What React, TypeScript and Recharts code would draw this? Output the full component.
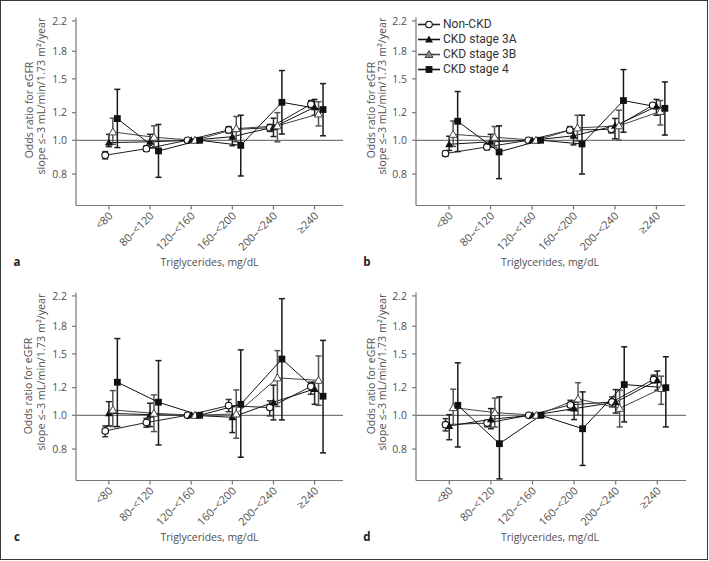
import React from 'react';
import { LineChart, Line, XAxis, YAxis, ReferenceLine, ErrorBar } from 'recharts';

const categories = ['<80', '80–<120', '120–<160', '160–<200', '200–<240', '≥240'];
const yTicks = [0.8, 1.0, 1.2, 1.5, 1.8, 2.2];
const seriesNames = ['Non-CKD', 'CKD stage 3A', 'CKD stage 3B', 'CKD stage 4'];

// panel a
const aNonCkd = [0.906, 0.946, 1.0, 1.071, 1.087, 1.269];
const aNonCkdCi = [[0.884, 0.928], [0.93, 0.963], [1, 1], [1.05, 1.095], [1.06, 1.11], [1.24, 1.3]];
const a3A = [0.985, 0.99, 1.0, 1.024, 1.09, 1.244];
const a3ACi = [[0.959, 1.04], [0.95, 1.04], [1, 1], [0.965, 1.059], [1.025, 1.157], [1.18, 1.31]];
const a3B = [1.057, 1.02, 1.0, 1.08, 1.1, 1.19];
const a3BCi = [[0.974, 1.157], [0.95, 1.1], [1, 1], [0.99, 1.17], [0.99, 1.2], [1.1, 1.29]];
const a4 = [1.154, 0.932, 1.0, 0.967, 1.285, 1.225];
const a4Ci = [[0.953, 1.4], [0.783, 1.11], [1, 1], [0.79, 1.18], [1.042, 1.585], [1.03, 1.454]];

// panel b
const bNonCkd = [0.916, 0.957, 1.0, 1.07, 1.075, 1.26];
const bNonCkdCi = [[0.9, 0.93], [0.94, 0.975], [1, 1], [1.05, 1.095], [1.05, 1.095], [1.245, 1.275]];
const b3A = [0.974, 0.99, 1.0, 1.03, 1.1, 1.25];
const b3ACi = [[0.935, 1.027], [0.955, 1.04], [1, 1], [0.97, 1.08], [1.01, 1.155], [1.18, 1.31]];
const b3B = [1.04, 1.02, 1.0, 1.085, 1.1, 1.21];
const b3BCi = [[0.96, 1.136], [0.955, 1.095], [1, 1], [0.995, 1.18], [1.0, 1.22], [1.106, 1.3]];
const b4 = [1.134, 0.926, 1.0, 0.976, 1.3, 1.235];
const b4Ci = [[0.928, 1.38], [0.776, 1.1], [1, 1], [0.8, 1.18], [1.055, 1.595], [1.035, 1.47]];

// panel c
const cNonCkd = [0.902, 0.953, 1.0, 1.066, 1.052, 1.21];
const cNonCkdCi = [[0.868, 0.932], [0.924, 0.98], [1, 1], [1.024, 1.11], [0.996, 1.1], [1.149, 1.244]];
const c3A = [1.013, 1.004, 1.0, 0.987, 1.09, 1.19];
const c3ACi = [[0.932, 1.094], [0.928, 1.083], [1, 1], [0.892, 1.059], [0.97, 1.22], [1.075, 1.244]];
const c3B = [1.036, 1.013, 1.0, 1.009, 1.28, 1.26];
const c3BCi = [[0.928, 1.177], [0.898, 1.144], [1, 1], [0.859, 1.182], [1.06, 1.533], [1.068, 1.48]];
const c4 = [1.244, 1.09, 1.0, 1.075, 1.45, 1.134];
const c4Ci = [[0.928, 1.66], [0.822, 1.435], [1, 1], [0.758, 1.54], [0.97, 2.16], [0.78, 1.64]];

// panel d
const dNonCkd = [0.94, 0.95, 1.0, 1.071, 1.092, 1.267];
const dNonCkdCi = [[0.902, 0.978], [0.926, 0.967], [1, 1], [1.034, 1.104], [1.057, 1.129], [1.239, 1.304]];
const d3A = [0.932, 0.974, 1.0, 1.045, 1.09, 1.26];
const d3ACi = [[0.851, 1.004], [0.915, 1.045], [1, 1], [0.972, 1.09], [1.015, 1.185], [1.18, 1.34]];
const d3B = [1.052, 1.018, 1.0, 1.114, 1.047, 1.193];
const d3BCi = [[0.94, 1.188], [0.925, 1.12], [1, 1], [1.0, 1.24], [0.926, 1.18], [1.075, 1.295]];
const d4 = [1.068, 0.829, 1.0, 0.915, 1.225, 1.2];
const d4Ci = [[0.811, 1.414], [0.657, 1.129], [1, 1], [0.718, 1.167], [0.957, 1.572], [0.926, 1.472]];

const FONT = '"Open Sans", "Noto Sans", sans-serif';
// horizontal shift of each series inside a category (category units)
const offsets = [-0.09, 0, 0.095, 0.205];
const styles = [
  { kind: 'circle', line: '#222', bar: '#333' },
  { kind: 'tri', line: '#111', bar: '#222' },
  { kind: 'otri', line: '#444', bar: '#555' },
  { kind: 'square', line: '#111', bar: '#1a1a1a' },
];

const toRows = (vals: number[], ci: number[][], k: number) =>
  vals.map((v, i) => ({ x: i + offsets[k], y: v, err: [v - ci[i][0], ci[i][1] - v] }));

const Marker = ({ kind, cx, cy, legend }: any) => {
  if (cx == null || cy == null) return null;
  if (kind === 'circle') return <circle cx={cx} cy={cy} r={3.3} fill="#fff" stroke="#111" strokeWidth={1.1} />;
  if (kind === 'square') return <rect x={cx - 3.4} y={cy - 3.4} width={6.8} height={6.8} fill="#111" />;
  const s = 4;
  const pts = `${cx},${cy - s} ${cx - s},${cy + s * 0.75} ${cx + s},${cy + s * 0.75}`;
  if (kind === 'tri') return <polygon points={pts} fill="#111" />;
  return <polygon points={pts} fill={legend ? '#888' : '#fff'} stroke="#444" strokeWidth={1} />;
};

const XTick = ({ x, y, payload }: any) => (
  <text
    x={x + 4.5}
    y={y + 4}
    transform={`rotate(-45, ${x + 4.5}, ${y + 4})`}
    textAnchor="end"
    fontSize={11}
    fontFamily={FONT}
    fill="#505050"
  >
    {categories[payload.value]}
  </text>
);

const Txt = ({ x, y, rot, bold, size, children }: any) => (
  <div
    style={{
      position: 'absolute',
      left: x,
      top: y,
      transform: `translate(-50%, -50%)${rot ? ' rotate(-90deg)' : ''}`,
      whiteSpace: 'nowrap',
      fontFamily: FONT,
      fontSize: size || (bold ? 11.5 : 10),
      fontWeight: bold ? 700 : 400,
      color: bold ? '#222' : '#505050',
      lineHeight: 1,
    }}
  >
    {children}
  </div>
);

const Panel = ({ left, top, height, margin, series }: any) => (
  <div style={{ position: 'absolute', left, top }}>
    <LineChart width={354} height={height} margin={margin}>
      <XAxis
        type="number"
        dataKey="x"
        domain={[-0.8, 5.69]}
        allowDataOverflow
        ticks={[0, 1, 2, 3, 4, 5]}
        tick={<XTick />}
        height={30}
        tickSize={4}
        tickMargin={3}
        stroke="#777"
        strokeWidth={1.2}
      />
      <YAxis
        type="number"
        scale="log"
        domain={[0.65, 2.25]}
        allowDataOverflow
        ticks={yTicks}
        tickFormatter={(v: number) => v.toFixed(1)}
        width={30}
        tickSize={4}
        tickMargin={5}
        stroke="#777"
        strokeWidth={1.2}
        tick={{ fontSize: 10.5, fontFamily: FONT, fill: '#505050' }}
      />
      <ReferenceLine y={1} stroke="#777" strokeWidth={1.3} />
      {series.map((s: any, k: number) => (
        <Line
          key={seriesNames[k]}
          name={seriesNames[k]}
          data={toRows(s[0], s[1], k)}
          dataKey="y"
          stroke={styles[k].line}
          strokeWidth={1}
          isAnimationActive={false}
          dot={(p: any) => <Marker key={p.index} kind={styles[k].kind} cx={p.cx} cy={p.cy} />}
        >
          <ErrorBar dataKey="err" width={3} stroke={styles[k].bar} strokeWidth={1.5} />
        </Line>
      ))}
    </LineChart>
  </div>
);

const LegendBox = () => (
  <>
    {seriesNames.map((n, k) => (
      <div key={n} style={{ position: 'absolute', left: 418, top: 24.3 + k * 15 - 6.5, height: 13, display: 'flex', alignItems: 'center', lineHeight: '12px' }}>
        <svg width={22} height={13} style={{ display: 'block' }}>
          <line x1={0} y1={6.5} x2={22} y2={6.5} stroke={styles[k].line} strokeWidth={1.6} />
          <Marker kind={styles[k].kind} cx={11} cy={6.5} legend />
        </svg>
        <span style={{ marginLeft: 3, fontFamily: 'Roboto, sans-serif', fontSize: 12, lineHeight: '12px', color: '#333' }}>{n}</span>
      </div>
    ))}
  </>
);

const yTitle1 = 'Odds ratio for eGFR';
const yTitle2 = 'slope ≤–3 mL/min/1.73 m²/year';
const xTitle = 'Triglycerides, mg/dL';

export default function App() {
  return (
    <div style={{ position: 'absolute', left: 0, top: 0, width: 709, height: 561, background: '#fff' }}>
      <div style={{ position: 'absolute', left: 0, top: 0, width: 708, height: 560, boxSizing: 'border-box', border: '1.5px solid #3a3a3a' }} />
      <Panel left={0} top={0} height={280} margin={{ top: 17.5, right: 11, left: 46, bottom: 44.5 }}
        series={[[aNonCkd, aNonCkdCi], [a3A, a3ACi], [a3B, a3BCi], [a4, a4Ci]]} />
      <Panel left={354} top={0} height={280} margin={{ top: 17.5, right: 23, left: 32, bottom: 44.5 }}
        series={[[bNonCkd, bNonCkdCi], [b3A, b3ACi], [b3B, b3BCi], [b4, b4Ci]]} />
      <Panel left={0} top={280} height={281} margin={{ top: 12.5, right: 11, left: 46, bottom: 50.5 }}
        series={[[cNonCkd, cNonCkdCi], [c3A, c3ACi], [c3B, c3BCi], [c4, c4Ci]]} />
      <Panel left={354} top={280} height={281} margin={{ top: 12.5, right: 22, left: 32, bottom: 50.5 }}
        series={[[dNonCkd, dNonCkdCi], [d3A, d3ACi], [d3B, d3BCi], [d4, d4Ci]]} />

      <Txt x={29} y={110} rot size={10.5}>{yTitle1}</Txt>
      <Txt x={40.5} y={96} rot size={10.8}>{yTitle2}</Txt>
      <Txt x={370.7} y={110} rot size={10.5}>{yTitle1}</Txt>
      <Txt x={381.8} y={96} rot size={10.8}>{yTitle2}</Txt>
      <Txt x={28.3} y={385.8} rot size={10.5}>{yTitle1}</Txt>
      <Txt x={40.5} y={371.7} rot size={10.8}>{yTitle2}</Txt>
      <Txt x={370.7} y={385.8} rot size={10.5}>{yTitle1}</Txt>
      <Txt x={381.8} y={371.7} rot size={10.8}>{yTitle2}</Txt>

      <Txt x={209.5} y={262} size={10.5}>{xTitle}</Txt>
      <Txt x={550} y={262} size={10.5}>{xTitle}</Txt>
      <Txt x={209.5} y={537.3} size={10.5}>{xTitle}</Txt>
      <Txt x={550} y={537.3} size={10.5}>{xTitle}</Txt>

      <Txt x={17} y={262} bold>a</Txt>
      <Txt x={367} y={262} bold>b</Txt>
      <Txt x={17} y={537} bold>c</Txt>
      <Txt x={367} y={537} bold>d</Txt>

      <LegendBox />
    </div>
  );
}
